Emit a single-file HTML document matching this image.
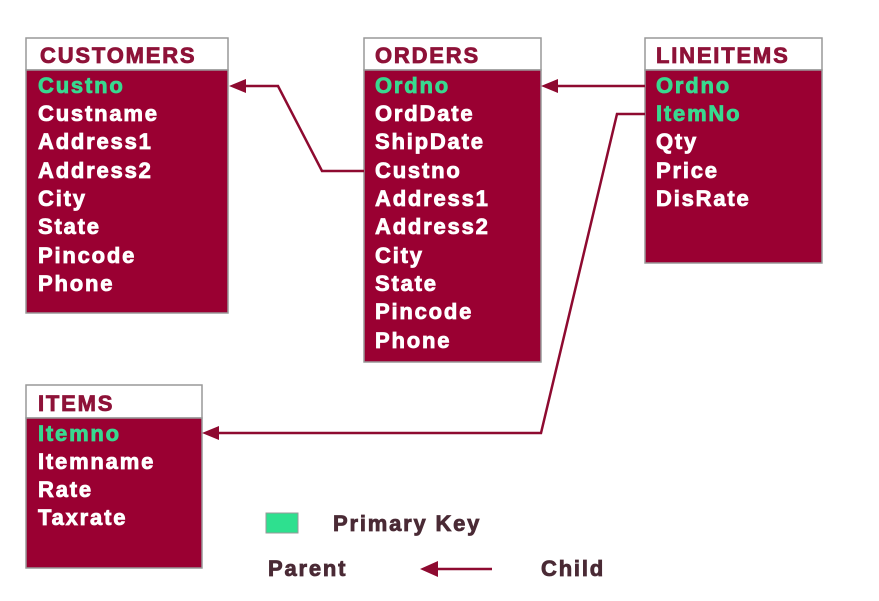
<!DOCTYPE html>
<html><head><style>
body{margin:0;background:#fff;width:879px;height:596px;overflow:hidden}
svg text{font-family:"Liberation Sans",Arial,sans-serif;font-weight:bold;font-size:22px;letter-spacing:1.8px;stroke-width:0.8px}
.h{fill:#8e1238;stroke:#8e1238}.w{fill:#fff;stroke:#fff}.g{fill:#38d98f;stroke:#38d98f}.k{fill:#4a2a35;stroke:#4a2a35}
</style></head><body>
<svg width="879" height="596" xmlns="http://www.w3.org/2000/svg">
<g stroke="#999" stroke-width="1.5">
<rect x="26" y="38" width="202" height="32" fill="#fff"/><rect x="26" y="70" width="202" height="243" fill="#9a0032"/>
<rect x="364" y="38" width="177" height="32" fill="#fff"/><rect x="364" y="70" width="177" height="292" fill="#9a0032"/>
<rect x="645" y="38" width="177" height="32" fill="#fff"/><rect x="645" y="70" width="177" height="193" fill="#9a0032"/>
<rect x="26" y="385" width="176" height="33" fill="#fff"/><rect x="26" y="418" width="176" height="150" fill="#9a0032"/>
</g>
<text x="40" y="63" class="h">CUSTOMERS</text>
<text x="38" y="93" class="g">Custno</text>
<text x="38" y="121" class="w">Custname</text>
<text x="38" y="149" class="w">Address1</text>
<text x="38" y="178" class="w">Address2</text>
<text x="38" y="206" class="w">City</text>
<text x="38" y="234" class="w">State</text>
<text x="38" y="263" class="w">Pincode</text>
<text x="38" y="291" class="w">Phone</text>

<text x="375" y="63" class="h">ORDERS</text>
<text x="375" y="93" class="g">Ordno</text>
<text x="375" y="121" class="w">OrdDate</text>
<text x="375" y="149" class="w">ShipDate</text>
<text x="375" y="178" class="w">Custno</text>
<text x="375" y="206" class="w">Address1</text>
<text x="375" y="234" class="w">Address2</text>
<text x="375" y="263" class="w">City</text>
<text x="375" y="291" class="w">State</text>
<text x="375" y="319" class="w">Pincode</text>
<text x="375" y="348" class="w">Phone</text>

<text x="656" y="63" class="h">LINEITEMS</text>
<text x="656" y="93" class="g">Ordno</text>
<text x="656" y="121" class="g">ItemNo</text>
<text x="656" y="149" class="w">Qty</text>
<text x="656" y="178" class="w">Price</text>
<text x="656" y="206" class="w">DisRate</text>

<text x="38" y="411" class="h">ITEMS</text>
<text x="38" y="441" class="g">Itemno</text>
<text x="38" y="469" class="w">Itemname</text>
<text x="38" y="497" class="w">Rate</text>
<text x="38" y="525" class="w">Taxrate</text>

<g fill="none" stroke="#8e0a30" stroke-width="2.5">
<path d="M364,171 L322,171 L278,86 L244,86"/>
<path d="M645,86 L555,86"/>
<path d="M645,114 L617,114 L541,433 L216,433"/>
<path d="M492,569 L436,569"/>
</g>
<g fill="#8e0a30">
<polygon points="229,86 246,79 246,93"/>
<polygon points="541,86 558,79 558,93"/>
<polygon points="202,433 219,426 219,440"/>
<polygon points="420,569 438,561 438,577"/>
</g>
<rect x="266" y="513" width="32" height="20" fill="#2ee08f" stroke="#999" stroke-width="1"/>
<text x="333" y="531" class="k">Primary Key</text>
<text x="268" y="576" class="k">Parent</text>
<text x="541" y="576" class="k">Child</text>
</svg>
</body></html>
